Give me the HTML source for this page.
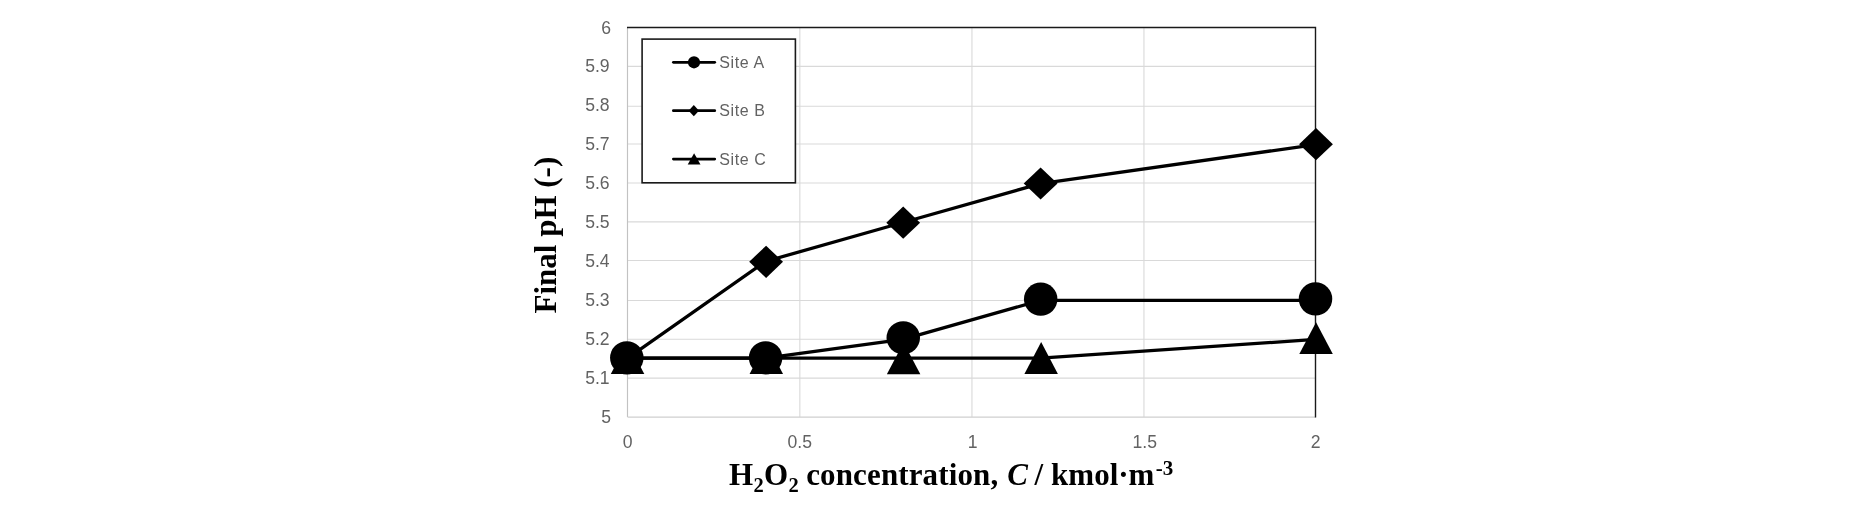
<!DOCTYPE html>
<html><head><meta charset="utf-8"><title>chart</title>
<style>
html,body{margin:0;padding:0;background:#fff;}
body{width:1866px;height:517px;overflow:hidden;}
svg{display:block;will-change:transform;filter:grayscale(1);}
.tk{font-family:"Liberation Sans",sans-serif;font-size:17.6px;fill:#626262;}
.lg{font-family:"Liberation Sans",sans-serif;font-size:16px;letter-spacing:0.6px;fill:#626262;}
.ttl{font-family:"Liberation Serif",serif;font-weight:bold;font-size:31px;fill:#000;}
</style></head><body>
<svg width="1866" height="517" viewBox="0 0 1866 517">
<rect width="1866" height="517" fill="#fff"/>
<g stroke="#d9d9d9" stroke-width="1.1" fill="none"><line x1="627.5" y1="66.40" x2="1315.5" y2="66.40"/><line x1="627.5" y1="106.30" x2="1315.5" y2="106.30"/><line x1="627.5" y1="143.95" x2="1315.5" y2="143.95"/><line x1="627.5" y1="182.95" x2="1315.5" y2="182.95"/><line x1="627.5" y1="221.85" x2="1315.5" y2="221.85"/><line x1="627.5" y1="260.50" x2="1315.5" y2="260.50"/><line x1="627.5" y1="300.45" x2="1315.5" y2="300.45"/><line x1="627.5" y1="339.30" x2="1315.5" y2="339.30"/><line x1="627.5" y1="378.10" x2="1315.5" y2="378.10"/><line x1="799.85" y1="27.45" x2="799.85" y2="417.1"/><line x1="971.95" y1="27.45" x2="971.95" y2="417.1"/><line x1="1143.95" y1="27.45" x2="1143.95" y2="417.1"/></g>
<line x1="627.5" y1="27.45" x2="627.5" y2="417.1" stroke="#c2c2c2" stroke-width="1.15"/>
<line x1="627.5" y1="417.1" x2="1315.5" y2="417.1" stroke="#cfcfcf" stroke-width="1.4"/>
<polyline points="627.0,27.45 1315.5,27.45 1315.5,417.6" stroke="#1a1a1a" stroke-width="1.4" fill="none"/>
<text class="tk" x="611.0" y="423.15" text-anchor="end">5</text><text class="tk" x="609.6" y="384.19" text-anchor="end">5.1</text><text class="tk" x="609.6" y="345.22" text-anchor="end">5.2</text><text class="tk" x="609.6" y="306.26" text-anchor="end">5.3</text><text class="tk" x="609.6" y="267.29" text-anchor="end">5.4</text><text class="tk" x="609.6" y="228.33" text-anchor="end">5.5</text><text class="tk" x="609.6" y="189.36" text-anchor="end">5.6</text><text class="tk" x="609.6" y="150.39" text-anchor="end">5.7</text><text class="tk" x="609.6" y="111.43" text-anchor="end">5.8</text><text class="tk" x="609.6" y="72.46" text-anchor="end">5.9</text><text class="tk" x="611.0" y="33.50" text-anchor="end">6</text>
<text class="tk" x="627.70" y="447.9" text-anchor="middle">0</text><text class="tk" x="799.70" y="447.9" text-anchor="middle">0.5</text><text class="tk" x="972.70" y="447.9" text-anchor="middle">1</text><text class="tk" x="1144.70" y="447.9" text-anchor="middle">1.5</text><text class="tk" x="1315.70" y="447.9" text-anchor="middle">2</text>
<polyline points="627.70,358.15 765.30,358.15 902.90,339.42 1040.50,300.46 1315.70,300.46" fill="none" stroke="#000" stroke-width="3.3" stroke-linejoin="round" stroke-linecap="round"/>
<polyline points="627.70,358.15 765.30,261.49 902.90,222.53 1040.50,183.56 1315.70,144.59" fill="none" stroke="#000" stroke-width="3.3" stroke-linejoin="round" stroke-linecap="round"/>
<polyline points="627.70,358.15 765.30,358.15 902.90,358.15 1040.50,358.15 1315.70,339.42" fill="none" stroke="#000" stroke-width="3.3" stroke-linejoin="round" stroke-linecap="round"/>
<polygon points="627.55,342.30 644.30,374.10 610.80,374.10" fill="#000"/><polygon points="766.30,342.20 783.05,374.00 749.55,374.00" fill="#000"/><polygon points="903.60,342.40 920.35,374.20 886.85,374.20" fill="#000"/><polygon points="1041.15,342.10 1057.90,373.90 1024.40,373.90" fill="#000"/><polygon points="1316.05,322.30 1332.80,354.10 1299.30,354.10" fill="#000"/>
<polygon points="766.10,245.70 783.00,261.80 766.10,277.90 749.20,261.80" fill="#000"/><polygon points="903.20,206.60 920.10,222.70 903.20,238.80 886.30,222.70" fill="#000"/><polygon points="1040.60,167.40 1057.50,183.50 1040.60,199.60 1023.70,183.50" fill="#000"/><polygon points="1316.00,128.10 1332.90,144.20 1316.00,160.30 1299.10,144.20" fill="#000"/>
<ellipse cx="626.80" cy="357.85" rx="16.75" ry="16.6" fill="#000"/><ellipse cx="765.60" cy="357.80" rx="16.75" ry="16.6" fill="#000"/><ellipse cx="903.25" cy="337.75" rx="16.75" ry="16.6" fill="#000"/><ellipse cx="1040.70" cy="299.20" rx="16.75" ry="16.6" fill="#000"/><ellipse cx="1315.50" cy="298.90" rx="16.75" ry="16.6" fill="#000"/>
<rect x="642.1" y="39.1" width="153.3" height="143.7" fill="#fff" stroke="#1a1a1a" stroke-width="1.6"/>
<line x1="673.4" y1="62.3" x2="714.7" y2="62.3" stroke="#000" stroke-width="2.8" stroke-linecap="round"/><circle cx="694" cy="62.3" r="6.1" fill="#000"/><text class="lg" x="719.3" y="67.9">Site A</text>
<line x1="673.4" y1="110.7" x2="714.7" y2="110.7" stroke="#000" stroke-width="2.8" stroke-linecap="round"/><polygon points="693.8,105.1 699,110.7 693.8,116.3 688.6,110.7" fill="#000"/><text class="lg" x="719.3" y="116.3">Site B</text>
<line x1="673.4" y1="159.1" x2="714.7" y2="159.1" stroke="#000" stroke-width="2.8" stroke-linecap="round"/><polygon points="694.1,153.3 700.5,164.5 687.7,164.5" fill="#000"/><text class="lg" x="719.3" y="164.7">Site C</text>
<g class="ttl"><text x="728.9" y="484.8">H</text><text x="753.6" y="491.7" font-size="20.5">2</text><text x="763.9" y="484.8">O</text><text x="788.5" y="491.7" font-size="20.5">2</text><text x="806.2" y="484.8" textLength="192" lengthAdjust="spacing">concentration,</text><text x="1007.3" y="484.8" font-style="italic">C</text><text x="1034.6" y="484.8">/</text><text x="1051.1" y="484.8">kmol·m</text><text x="1155.8" y="474.9" font-size="21">-3</text></g>
<text class="ttl" transform="translate(556,313.5) rotate(-90)">Final pH (-)</text>
</svg></body></html>
